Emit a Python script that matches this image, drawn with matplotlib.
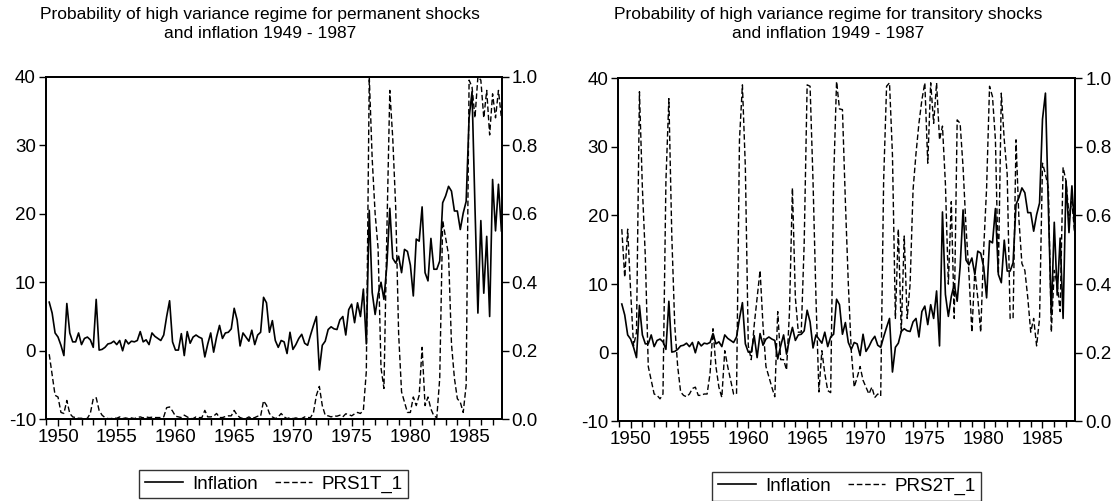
import numpy as np
import pandas as pd
import matplotlib
matplotlib.use("Agg")
import matplotlib.pyplot as plt
from matplotlib.ticker import MultipleLocator

plt.rcParams['font.family'] = ['Liberation Sans', 'DejaVu Sans']
plt.rcParams['axes.unicode_minus'] = False

# quarterly sample 1949Q2 - 1987Q4
periods = pd.period_range('1949Q2', '1987Q4', freq='Q')
dates = periods.year + (periods.quarter - 1) / 4.0

inflation = [
    7.1, 5.5, 2.6, 2.0, 0.8, -0.7, 6.9, 2.6, 1.3, 1.3,
    2.6, 0.9, 1.8, 2.0, 1.6, 0.5, 7.5, 0.1, 0.2, 0.5,
    1.0, 1.1, 1.4, 0.9, 1.5, 0.0, 1.6, 1.0, 1.4, 1.3,
    1.5, 2.8, 1.3, 1.6, 0.9, 2.6, 2.1, 1.8, 1.5, 2.3,
    5.0, 7.3, 1.3, 0.1, 0.1, 2.5, -0.7, 2.8, 1.1, 2.0,
    2.3, 2.0, 1.8, -0.9, 1.0, 2.6, -0.2, 2.0, 3.7, 1.8,
    2.6, 2.7, 3.2, 6.2, 4.5, 0.7, 2.6, 2.0, 1.4, 3.0,
    0.9, 2.3, 2.7, 7.8, 7.0, 2.7, 4.4, 1.5, 0.5, 1.5,
    1.3, -0.4, 2.7, 0.2, 0.9, 1.8, 2.4, 1.1, 0.8, 2.3,
    3.7, 5.0, -2.8, 0.8, 1.4, 3.1, 3.5, 3.2, 3.1, 4.5,
    5.0, 2.3, 6.0, 6.8, 4.1, 7.0, 5.0, 9.0, 1.0, 20.5,
    8.5, 5.3, 8.2, 10.0, 7.5, 12.5, 20.8, 13.5, 12.8, 13.8,
    11.4, 14.8, 14.5, 12.5, 8.0, 16.3, 16.0, 21.0, 11.4, 10.2,
    16.4, 11.9, 11.9, 13.1, 21.6, 22.6, 24.0, 23.3, 20.4, 20.4,
    17.7, 20.1, 21.8, 34.0, 37.8, 21.0, 5.5, 19.0, 8.4, 16.7,
    5.0, 25.0, 17.5, 24.3, 17.5,
]

prs1t_1 = [
    0.19, 0.13, 0.07, 0.065, 0.02, 0.017, 0.055, 0.017, 0.007, 0.005,
    0.003, 0.003, 0.0, 0.003, 0.017, 0.06, 0.063, 0.026, 0.012, 0.005,
    0.002, 0.002, 0.004, 0.003, 0.007, 0.002, 0.004, 0.002, 0.004, 0.002,
    0.005, 0.007, 0.004, 0.007, 0.005, 0.006, 0.005, 0.005, 0.005, 0.007,
    0.034, 0.036, 0.024, 0.009, 0.007, 0.005, 0.012, 0.007, 0.002, 0.002,
    0.007, 0.005, 0.005, 0.026, 0.007, 0.007, 0.009, 0.017, 0.005, 0.005,
    0.008, 0.01, 0.01, 0.026, 0.012, 0.005, 0.002, 0.002, 0.007, 0.002,
    0.005, 0.009, 0.009, 0.054, 0.041, 0.017, 0.007, 0.002, 0.007, 0.017,
    0.007, 0.002, 0.005, 0.002, 0.004, 0.002, 0.002, 0.007, 0.005, 0.005,
    0.02, 0.07, 0.096, 0.04, 0.012, 0.01, 0.007, 0.01, 0.009, 0.012,
    0.007, 0.016, 0.014, 0.01, 0.016, 0.02, 0.017, 0.027, 0.14, 1.0,
    0.76, 0.60, 0.50, 0.15, 0.09, 0.55, 0.96, 0.82, 0.62, 0.25,
    0.08, 0.05, 0.02, 0.02, 0.065, 0.04, 0.07, 0.21, 0.04, 0.065,
    0.03, 0.01, 0.005, 0.12, 0.58, 0.53, 0.48, 0.22, 0.12, 0.06,
    0.05, 0.02, 0.10, 0.99, 0.97, 0.88, 1.0, 0.99, 0.88, 0.96,
    0.83, 0.95, 0.88, 0.96, 0.88,
]

prs2t_1 = [
    0.56, 0.42, 0.56, 0.38, 0.22, 0.26, 0.96, 0.68, 0.48, 0.16,
    0.12, 0.08, 0.076, 0.066, 0.08, 0.70, 0.94, 0.54, 0.28, 0.16,
    0.086, 0.076, 0.072, 0.08, 0.096, 0.10, 0.076, 0.076, 0.08, 0.08,
    0.14, 0.27, 0.16, 0.10, 0.07, 0.206, 0.16, 0.12, 0.08, 0.08,
    0.82, 0.98, 0.74, 0.22, 0.18, 0.28, 0.36, 0.44, 0.28, 0.16,
    0.13, 0.10, 0.072, 0.32, 0.18, 0.18, 0.15, 0.32, 0.68, 0.36,
    0.26, 0.26, 0.52, 0.98, 0.976, 0.70, 0.36, 0.086, 0.206, 0.14,
    0.09, 0.084, 0.70, 0.99, 0.91, 0.908, 0.64, 0.40, 0.206, 0.10,
    0.128, 0.16, 0.12, 0.10, 0.08, 0.10, 0.07, 0.08, 0.074, 0.70,
    0.976, 0.986, 0.776, 0.30, 0.56, 0.26, 0.54, 0.30, 0.40, 0.674,
    0.78, 0.868, 0.936, 0.986, 0.752, 0.986, 0.868, 0.986, 0.82, 0.86,
    0.692, 0.40, 0.64, 0.30, 0.878, 0.868, 0.74, 0.566, 0.43, 0.26,
    0.44, 0.36, 0.26, 0.50, 0.68, 0.976, 0.946, 0.82, 0.43, 0.956,
    0.82, 0.72, 0.30, 0.30, 0.82, 0.586, 0.46, 0.44, 0.36, 0.26,
    0.30, 0.22, 0.30, 0.752, 0.72, 0.68, 0.26, 0.44, 0.40, 0.32,
    0.74, 0.70, 0.60, 0.64, 0.54,
]

titles = [
    "Probability of high variance regime for permanent shocks\nand inflation 1949 - 1987",
    "Probability of high variance regime for transitory shocks\nand inflation 1949 - 1987",
]
prob_labels = ["PRS1T_1", "PRS2T_1"]
prob_series = [prs1t_1, prs2t_1]

fig = plt.figure(figsize=(11.17, 5.01), dpi=100)

# axes boxes in figure fractions (left, bottom, width, height)
boxes = [(0.0409, 0.1631, 0.4085, 0.6838), (0.5535, 0.1587, 0.4093, 0.6856)]
title_x = [0.2325, 0.7415]

for i in range(2):
    ax = fig.add_axes(boxes[i])
    ax2 = ax.twinx()

    l1, = ax.plot(dates, inflation, color='black', lw=1.2, label='Inflation')
    l2, = ax2.plot(dates, prob_series[i], color='black', lw=1.0,
                   linestyle=(0, (4, 2)), label=prob_labels[i])

    ax.set_xlim(1948.95, 1987.8)
    ax.set_ylim(-10, 40)
    ax2.set_ylim(0, 1)
    ax.set_yticks([-10, 0, 10, 20, 30, 40])
    ax2.set_yticks([0.0, 0.2, 0.4, 0.6, 0.8, 1.0])
    ax2.set_yticklabels(['0.0', '0.2', '0.4', '0.6', '0.8', '1.0'])
    ax.set_xticks(range(1950, 1986, 5))
    ax.xaxis.set_minor_locator(MultipleLocator(1))

    ax.tick_params(axis='both', which='major', direction='out', length=5,
                   width=1, labelsize=13.5, pad=2)
    ax.tick_params(axis='x', which='minor', direction='out', length=4, width=1)
    ax2.tick_params(axis='y', direction='out', length=5, width=1,
                    labelsize=13.5, pad=2)
    for a in (ax, ax2):
        for s in a.spines.values():
            s.set_linewidth(1.3)

    fig.text(title_x[i], 0.986, titles[i], ha='center', va='top',
             fontsize=12.5, linespacing=1.35)

    leg = ax.legend([l1, l2], ['Inflation', prob_labels[i]], loc='upper center',
                    bbox_to_anchor=(0.5, -0.12), ncol=2, frameon=True,
                    fancybox=False, edgecolor='black', fontsize=13.5,
                    handlelength=2.0, columnspacing=0.9, handletextpad=0.5,
                    borderpad=0.3)
    leg.get_frame().set_linewidth(1.0)

fig.savefig('out.png', dpi=100)
